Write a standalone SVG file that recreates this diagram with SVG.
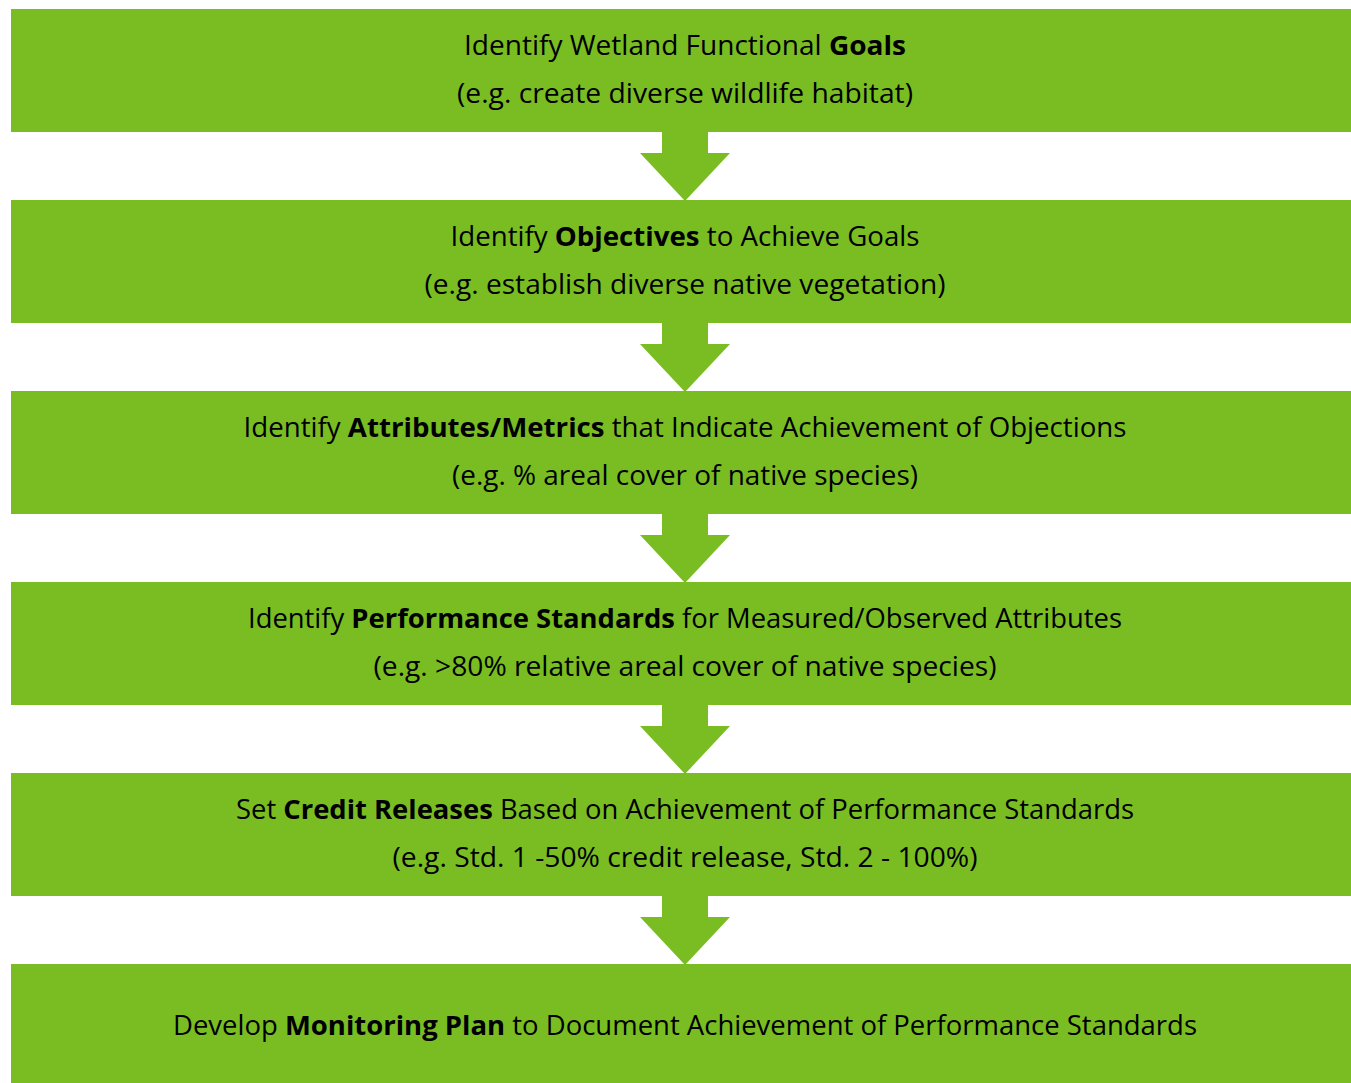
<svg xmlns="http://www.w3.org/2000/svg" width="1351" height="1083" viewBox="0 0 1351 1083">
<style>
.box{fill:#7abd22}
.arrow{fill:#7abd22}
text{font-family:"Open Sans","Liberation Sans",sans-serif;font-size:27px;fill:#000;text-anchor:middle}
.b{font-weight:bold}
</style>
<rect width="1351" height="1083" fill="#fff"/>
<g id="connectors">
<polygon class="arrow" points="662,131 708,131 708,153 730,153 685,201 640,153 662,153"/>
<polygon class="arrow" points="662,322 708,322 708,344 730,344 685,392 640,344 662,344"/>
<polygon class="arrow" points="662,513 708,513 708,535 730,535 685,583 640,535 662,535"/>
<polygon class="arrow" points="662,704 708,704 708,726 730,726 685,774 640,726 662,726"/>
<polygon class="arrow" points="662,895 708,895 708,917 730,917 685,965 640,917 662,917"/>
</g>
<g id="node1">
<rect class="box" x="11" y="9" width="1340" height="123"/>
<text x="685" y="55" textLength="442" lengthAdjust="spacingAndGlyphs">Identify Wetland Functional <tspan class="b">Goals</tspan></text>
<text x="685" y="103" textLength="456" lengthAdjust="spacingAndGlyphs">(e.g. create diverse wildlife habitat)</text>
</g>
<g id="node2">
<rect class="box" x="11" y="200" width="1340" height="123"/>
<text x="685" y="246" textLength="469" lengthAdjust="spacingAndGlyphs">Identify <tspan class="b">Objectives</tspan> to Achieve Goals</text>
<text x="685" y="294" textLength="521" lengthAdjust="spacingAndGlyphs">(e.g. establish diverse native vegetation)</text>
</g>
<g id="node3">
<rect class="box" x="11" y="391" width="1340" height="123"/>
<text x="685" y="437" textLength="883" lengthAdjust="spacingAndGlyphs">Identify <tspan class="b">Attributes/Metrics</tspan> that Indicate Achievement of Objections</text>
<text x="685" y="485" textLength="466" lengthAdjust="spacingAndGlyphs">(e.g. % areal cover of native species)</text>
</g>
<g id="node4">
<rect class="box" x="11" y="582" width="1340" height="123"/>
<text x="685" y="628" textLength="874" lengthAdjust="spacingAndGlyphs">Identify <tspan class="b">Performance Standards</tspan> for Measured/Observed Attributes</text>
<text x="685" y="676" textLength="623" lengthAdjust="spacingAndGlyphs">(e.g. &gt;80% relative areal cover of native species)</text>
</g>
<g id="node5">
<rect class="box" x="11" y="773" width="1340" height="123"/>
<text x="685" y="819" textLength="898" lengthAdjust="spacingAndGlyphs">Set <tspan class="b">Credit Releases</tspan> Based on Achievement of Performance Standards</text>
<text x="685" y="867" textLength="585" lengthAdjust="spacingAndGlyphs">(e.g. Std. 1 -50% credit release, Std. 2 - 100%)</text>
</g>
<g id="node6">
<rect class="box" x="11" y="964" width="1340" height="119"/>
<text x="685" y="1035" textLength="1024" lengthAdjust="spacingAndGlyphs">Develop <tspan class="b">Monitoring Plan</tspan> to Document Achievement of Performance Standards</text>
</g>
</svg>
